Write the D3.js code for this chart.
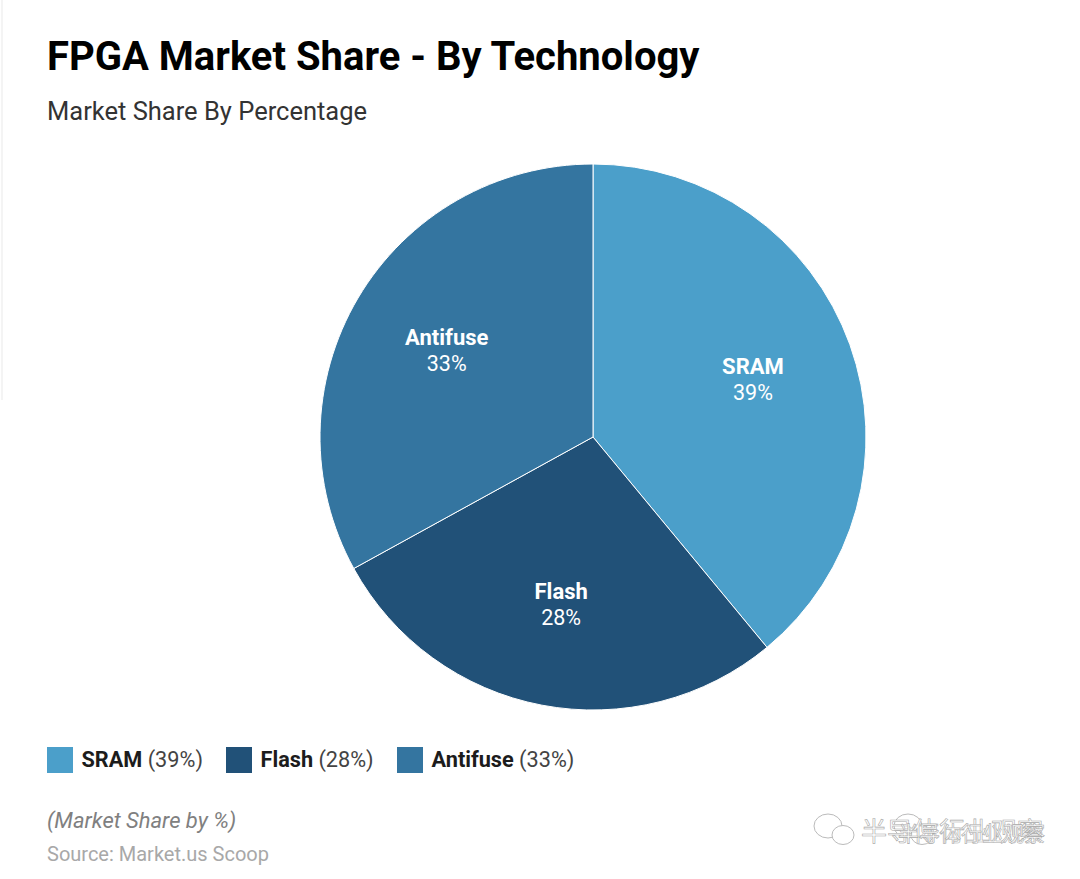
<!DOCTYPE html>
<html>
<head>
<meta charset="utf-8">
<script src="https://cdn.jsdelivr.net/npm/d3@7"></script>
<style>
  html, body { margin: 0; padding: 0; background: #fff; }
  text { font-family: Roboto, sans-serif; }
</style>
</head>
<body>
<div id="chart"></div>
<script>
// Values
var categories = ['SRAM', 'Flash', 'Antifuse'];
var shares = [39, 28, 33];
var colors = ['#4b9fca', '#215178', '#3475a0'];

var width = 1080, height = 879;
var cx = 593, cy = 437, radius = 273;

var svg = d3.select('#chart')
  .append('svg')
  .attr('width', width)
  .attr('height', height)
  .style('display', 'block');

// Faint edge left over in the screenshot
svg.append('line')
  .attr('x1', 2).attr('x2', 2)
  .attr('y1', 0).attr('y2', 400)
  .style('stroke', '#f0f0f0')
  .style('stroke-width', 1.5);

// Titles
svg.append('text')
  .attr('x', 47)
  .attr('y', 70)
  .style('font-size', '40px')
  .style('font-weight', 700)
  .style('fill', '#000')
  .text('FPGA Market Share - By Technology');

svg.append('text')
  .attr('x', 47)
  .attr('y', 120)
  .style('font-size', '25.5px')
  .style('fill', '#333')
  .text('Market Share By Percentage');

// Pie
var pie = d3.pie().sort(null).value(d => d.value);
var slices = pie(categories.map((c, i) => ({name: c, value: shares[i], color: colors[i]})));
var arc = d3.arc().innerRadius(0).outerRadius(radius);
var labelArc = d3.arc().innerRadius(170).outerRadius(170);

var g = svg.append('g')
  .attr('transform', 'translate(' + cx + ',' + cy + ')');

g.selectAll('path')
  .data(slices)
  .enter()
  .append('path')
  .attr('d', arc)
  .style('fill', d => d.data.color)
  .style('stroke', '#fff')
  .style('stroke-width', 1);

var labels = g.selectAll('g.label')
  .data(slices)
  .enter()
  .append('g')
  .attr('class', 'label')
  .attr('transform', d => 'translate(' + labelArc.centroid(d) + ')');

labels.append('text')
  .attr('text-anchor', 'middle')
  .attr('y', -5)
  .style('font-size', '22px')
  .style('font-weight', 700)
  .style('fill', '#fff')
  .text(d => d.data.name);

labels.append('text')
  .attr('text-anchor', 'middle')
  .attr('y', 21)
  .style('font-size', '21.5px')
  .style('fill', '#fff')
  .text(d => d.data.value + '%');

// Legend
var legendX = d3.scaleOrdinal().domain(categories).range([47, 226, 397]);

var legend = svg.selectAll('g.legend')
  .data(slices)
  .enter()
  .append('g')
  .attr('class', 'legend')
  .attr('transform', d => 'translate(' + legendX(d.data.name) + ',747)');

legend.append('rect')
  .attr('width', 26)
  .attr('height', 26)
  .style('fill', d => d.data.color);

var legendText = legend.append('text')
  .attr('x', 34.5)
  .attr('y', 20)
  .style('font-size', '21.7px');

legendText.append('tspan')
  .style('font-weight', 700)
  .style('fill', '#1c1c1c')
  .text(d => d.data.name);

legendText.append('tspan')
  .style('fill', '#444')
  .text(d => ' (' + d.data.value + '%)');

// Footer
svg.append('text')
  .attr('x', 47)
  .attr('y', 828)
  .style('font-size', '22px')
  .style('font-style', 'italic')
  .style('fill', '#808080')
  .text('(Market Share by %)');

svg.append('text')
  .attr('x', 47)
  .attr('y', 861)
  .style('font-size', '20px')
  .style('fill', '#a8a8a8')
  .text('Source: Market.us Scoop');

// Watermark, doubled up in the picture
var bubbles = [[828, 826, 14, 12], [843, 835, 11, 9.5], [908, 826, 14, 12], [922, 835, 11, 9.5]];
svg.selectAll('ellipse.mark')
  .data(bubbles)
  .enter()
  .append('ellipse')
  .attr('class', 'mark')
  .attr('cx', d => d[0])
  .attr('cy', d => d[1])
  .attr('rx', d => d[2])
  .attr('ry', d => d[3])
  .style('fill', '#fff')
  .style('stroke', '#bbb')
  .style('stroke-width', 1);

[[861, '半导体行业观察'], [898, '半导体行业观察']].forEach(function(m) {
  svg.append('text')
    .attr('x', m[0])
    .attr('y', 841)
    .style('font-family', '"Noto Sans CJK SC", sans-serif')
    .style('font-size', m[0] === 861 ? '26px' : '21px')
    .style('fill', '#fff')
    .style('stroke', '#a8a8a8')
    .style('stroke-width', 0.6)
    .text(m[1]);
});
</script>
</body>
</html>
